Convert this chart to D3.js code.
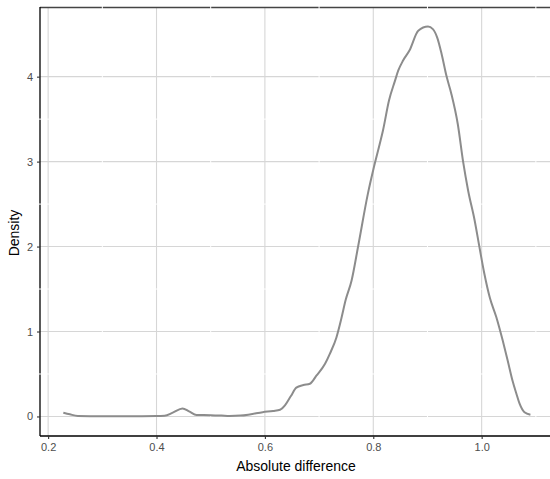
<!DOCTYPE html>
<html><head><meta charset="utf-8">
<script src="https://cdn.jsdelivr.net/npm/d3@7"></script>
<style>body{margin:0;background:#fff}svg{display:block}text{font-family:"Liberation Sans",Arial,sans-serif}</style>
</head><body><svg id="c" width="550" height="479"></svg>
<script>
const xVals = [0.228,0.24,0.255,0.3,0.35,0.4,0.415,0.43,0.448,0.46,0.474,0.5,0.52,0.535,0.555,0.572,0.596,0.615,0.628,0.637,0.648,0.658,0.671,0.683,0.695,0.711,0.72,0.732,0.741,0.749,0.76,0.772,0.79,0.801,0.812,0.818,0.829,0.84,0.846,0.855,0.867,0.883,0.901,0.91,0.918,0.926,0.935,0.944,0.956,0.966,0.975,0.987,0.996,1.005,1.015,1.027,1.039,1.048,1.057,1.064,1.07,1.079,1.09];
const densVals = [0.044,0.025,0.006,0.003,0.003,0.004,0.008,0.045,0.094,0.06,0.017,0.015,0.01,0.005,0.01,0.024,0.05,0.065,0.079,0.13,0.24,0.34,0.37,0.385,0.48,0.62,0.74,0.93,1.15,1.37,1.6,2.0,2.62,2.93,3.21,3.37,3.72,3.95,4.07,4.19,4.31,4.54,4.59,4.56,4.46,4.27,4.01,3.8,3.44,2.99,2.66,2.31,1.99,1.68,1.4,1.17,0.89,0.66,0.42,0.27,0.15,0.05,0.02];
const xTicks = [0.2,0.4,0.6,0.8,1.0];
const xMinor = [0.3,0.5,0.7,0.9,1.1];
const yTicks = [0,1,2,3,4];
const yMinor = [0.5,1.5,2.5,3.5];
const xLabel = "Absolute difference";
const yLabel = "Density";

const svg = d3.select("#c");
const L=40, R=554, T=7, B=436;
const x = d3.scaleLinear().domain([0.185,1.1335]).range([L,R]);
const y = d3.scaleLinear().domain([-0.23,4.82]).range([B,T]);

const g = svg.append("g");
// major grid
g.selectAll(".gx").data(xTicks).join("line")
  .attr("x1",d=>x(d)).attr("x2",d=>x(d)).attr("y1",T).attr("y2",B)
  .attr("stroke","#d6d6d6").attr("stroke-width",1.1);
g.selectAll(".gy").data(yTicks).join("line")
  .attr("y1",d=>y(d)).attr("y2",d=>y(d)).attr("x1",L).attr("x2",R)
  .attr("stroke","#d6d6d6").attr("stroke-width",1.1);
// border (top/right) and axis lines
g.append("line").attr("x1",L).attr("x2",R).attr("y1",T+0.5).attr("y2",T+0.5).attr("stroke","#444").attr("stroke-width",1.3);
g.append("line").attr("x1",R-0.5).attr("x2",R-0.5).attr("y1",T).attr("y2",B).attr("stroke","#444").attr("stroke-width",1.3);
g.append("line").attr("x1",L).attr("x2",550).attr("y1",B).attr("y2",B).attr("stroke","#000").attr("stroke-width",1.3);
g.append("line").attr("x1",L).attr("x2",L).attr("y1",T).attr("y2",B).attr("stroke","#000").attr("stroke-width",1.3);
// minor grid (white) over border
g.selectAll(".mx").data(xMinor).join("line")
  .attr("x1",d=>x(d)).attr("x2",d=>x(d)).attr("y1",T-1).attr("y2",B-1)
  .attr("stroke","#fff").attr("stroke-width",1);
g.selectAll(".my").data(yMinor).join("line")
  .attr("y1",d=>y(d)).attr("y2",d=>y(d)).attr("x1",L-1).attr("x2",R)
  .attr("stroke","#fff").attr("stroke-width",1);

// density line
const pts = xVals.map((v,i)=>[v,densVals[i]]);
g.append("path").datum(pts)
  .attr("d", d3.line().x(d=>x(d[0])).y(d=>y(d[1])).curve(d3.curveMonotoneX))
  .attr("fill","none").attr("stroke","#8c8c8c").attr("stroke-width",2);

// axes
const xa = svg.append("g").attr("transform",`translate(0,${B})`)
  .call(d3.axisBottom(x).tickValues(xTicks).tickFormat(d3.format(".1f")).tickSize(3).tickPadding(4));
const ya = svg.append("g").attr("transform",`translate(${L},0)`)
  .call(d3.axisLeft(y).tickValues(yTicks).tickFormat(d3.format("d")).tickSize(3).tickPadding(4));
[xa,ya].forEach(a=>{
  a.select(".domain").remove();
  a.selectAll(".tick line").attr("stroke","#333").attr("stroke-width",1.1);
  a.selectAll(".tick text").attr("fill","#4d4d4d").style("font-size","11px").style("font-family","'Liberation Sans',Arial,sans-serif");
});

svg.append("text").attr("x",296).attr("y",471).attr("text-anchor","middle")
  .style("font-size","14px").attr("fill","#000").text(xLabel);
svg.append("text").attr("transform","translate(19,233) rotate(-90)").attr("text-anchor","middle")
  .style("font-size","14px").attr("fill","#000").text(yLabel);
</script></body></html>
